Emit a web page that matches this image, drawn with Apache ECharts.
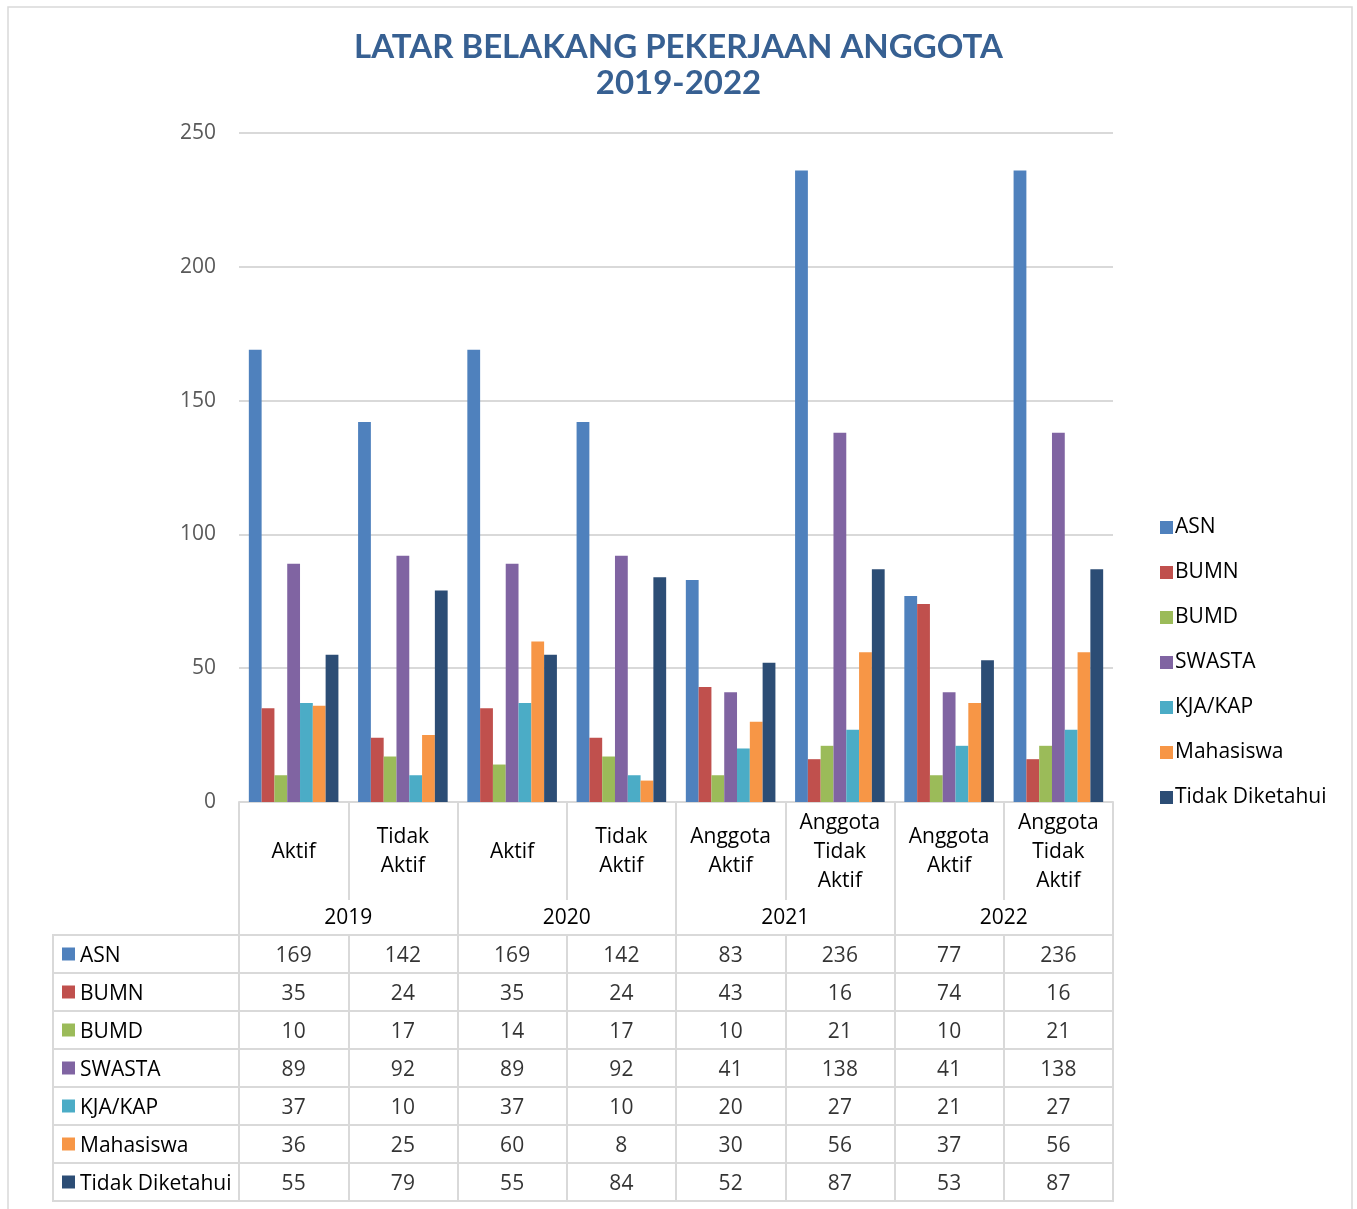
<!DOCTYPE html>
<html>
<head>
<meta charset="utf-8">
<script src="https://cdn.jsdelivr.net/npm/echarts@6/dist/echarts.min.js"></script>
<style>
  html, body { margin: 0; padding: 0; background: #fff; }
  #chart { width: 1357px; height: 1209px; }
</style>
</head>
<body>
<div id="chart"></div>
<script>
// chart data
const subLabels = ['Aktif', 'Tidak\nAktif', 'Aktif', 'Tidak\nAktif', 'Anggota\nAktif', 'Anggota\nTidak\nAktif', 'Anggota\nAktif', 'Anggota\nTidak\nAktif'];
const years = ['2019', '2020', '2021', '2022'];
const seriesNames = ['ASN', 'BUMN', 'BUMD', 'SWASTA', 'KJA/KAP', 'Mahasiswa', 'Tidak Diketahui'];
const colors = ['#4f81bd', '#c0504d', '#9bbb59', '#8064a2', '#4bacc6', '#f79646', '#2c4d75'];

const asn = [169, 142, 169, 142, 83, 236, 77, 236];
const bumn = [35, 24, 35, 24, 43, 16, 74, 16];
const bumd = [10, 17, 14, 17, 10, 21, 10, 21];
const swasta = [89, 92, 89, 92, 41, 138, 41, 138];
const kjaKap = [37, 10, 37, 10, 20, 27, 21, 27];
const mahasiswa = [36, 25, 60, 8, 30, 56, 37, 56];
const tidakDiketahui = [55, 79, 55, 84, 52, 87, 53, 87];

const values = [asn, bumn, bumd, swasta, kjaKap, mahasiswa, tidakDiketahui];

const font = 'Open Sans';
const fontSize = 21;
const lineColor = '#d9d9d9';

const chart = echarts.init(document.getElementById('chart'));

// bar series
const series = values.map((vals, i) => ({
    name: seriesNames[i],
    type: 'bar',
    xAxisIndex: 0,
    yAxisIndex: 0,
    barGap: 0,
    barCategoryGap: '18%',
    itemStyle: { color: colors[i] },
    data: vals
}));

// data table cells
const cells = [];
values.forEach((vals, r) => {
    vals.forEach((v, c) => cells.push([c, r, v]));
});
series.push({
    name: 'table',
    type: 'scatter',
    xAxisIndex: 2,
    yAxisIndex: 1,
    symbolSize: 1,
    itemStyle: { color: 'transparent' },
    silent: true,
    label: {
        show: true,
        position: 'inside',
        offset: [0, 2],
        formatter: p => p.data[2],
        fontFamily: font,
        fontSize: fontSize,
        color: '#000'
    },
    data: cells
});
// empty series so the header grid has something
series.push({
    name: 'header',
    type: 'scatter',
    xAxisIndex: 3,
    yAxisIndex: 2,
    symbolSize: 0,
    data: []
});

// rich styles for row header icons
const rich = { t: { fontFamily: font, fontSize: fontSize, color: '#000', padding: [4, 0, 0, 5] } };
colors.forEach((c, i) => {
    rich['i' + i] = { width: 13, height: 13, backgroundColor: c };
});

option = {
    animation: false,
    title: {
        text: 'LATAR BELAKANG PEKERJAAN ANGGOTA\n2019-2022',
        left: 'center',
        top: 24,
        textStyle: {
            fontFamily: 'Lato',
            fontWeight: 'bold',
            fontSize: 33,
            lineHeight: 36,
            color: '#376092'
        }
    },
    legend: {
        orient: 'vertical',
        left: 1155,
        top: 512,
        icon: 'rect',
        itemWidth: 13,
        itemHeight: 13,
        itemGap: 24,
        data: seriesNames,
        selectedMode: false,
        textStyle: { fontFamily: font, fontSize: fontSize, lineHeight: 21, color: '#000', padding: [0, 0, 0, -3] }
    },
    graphic: [{
        type: 'rect',
        shape: { x: 8, y: 7, width: 1344, height: 1230 },
        style: { fill: 'none', stroke: lineColor, lineWidth: 1.5 },
        silent: true
    }],
    grid: [
        { left: 239, width: 874, top: 133, height: 669 },
        { left: 239, width: 874, top: 935, height: 266, show: true, borderColor: lineColor, borderWidth: 2 },
        { left: 53, width: 186, top: 935, height: 266, show: true, borderColor: lineColor, borderWidth: 2 }
    ],
    xAxis: [
        {
            type: 'category',
            gridIndex: 0,
            data: subLabels,
            axisLine: { lineStyle: { color: lineColor, width: 2 } },
            axisTick: { show: true, interval: 0, length: 98, lineStyle: { color: lineColor, width: 2 } },
            axisLabel: {
                interval: 0,
                margin: 50,
                verticalAlign: 'middle',
                fontFamily: font,
                fontSize: fontSize,
                lineHeight: 29,
                color: '#000'
            }
        },
        {
            type: 'category',
            gridIndex: 0,
            position: 'bottom',
            offset: 98,
            data: years,
            axisLine: { show: false },
            axisTick: { show: true, interval: 0, length: 35, lineStyle: { color: lineColor, width: 2 } },
            axisLabel: {
                interval: 0,
                margin: 18,
                verticalAlign: 'middle',
                fontFamily: font,
                fontSize: fontSize,
                color: '#000'
            }
        },
        {
            type: 'category',
            gridIndex: 1,
            data: subLabels.map((s, i) => i),
            axisLine: { show: false },
            axisTick: { show: false },
            axisLabel: { show: false },
            splitLine: { show: true, interval: 0, lineStyle: { color: lineColor, width: 2 } }
        },
        {
            type: 'value',
            gridIndex: 2,
            show: false
        }
    ],
    yAxis: [
        {
            type: 'value',
            gridIndex: 0,
            min: 0,
            max: 250,
            interval: 50,
            axisLine: { show: false },
            axisTick: { show: false },
            splitLine: { lineStyle: { color: lineColor, width: 2 } },
            axisLabel: { margin: 23, padding: [4, 0, 0, 0], fontFamily: font, fontSize: fontSize, color: '#595959' }
        },
        {
            type: 'category',
            gridIndex: 1,
            inverse: true,
            data: seriesNames,
            axisLine: { show: false },
            axisTick: { show: false },
            axisLabel: { show: false },
            splitLine: { show: true, interval: 0, lineStyle: { color: lineColor, width: 2 } }
        },
        {
            type: 'category',
            gridIndex: 2,
            inverse: true,
            data: seriesNames,
            axisLine: { show: false },
            axisTick: { show: false },
            splitLine: { show: true, interval: 0, lineStyle: { color: lineColor, width: 2 } },
            axisLabel: {
                inside: true,
                interval: 0,
                margin: 9,
                formatter: (v, i) => '{i' + i + '|}{t|' + v + '}',
                rich: rich
            }
        }
    ],
    series: series
};

option && chart.setOption(option);
</script>
</body>
</html>
